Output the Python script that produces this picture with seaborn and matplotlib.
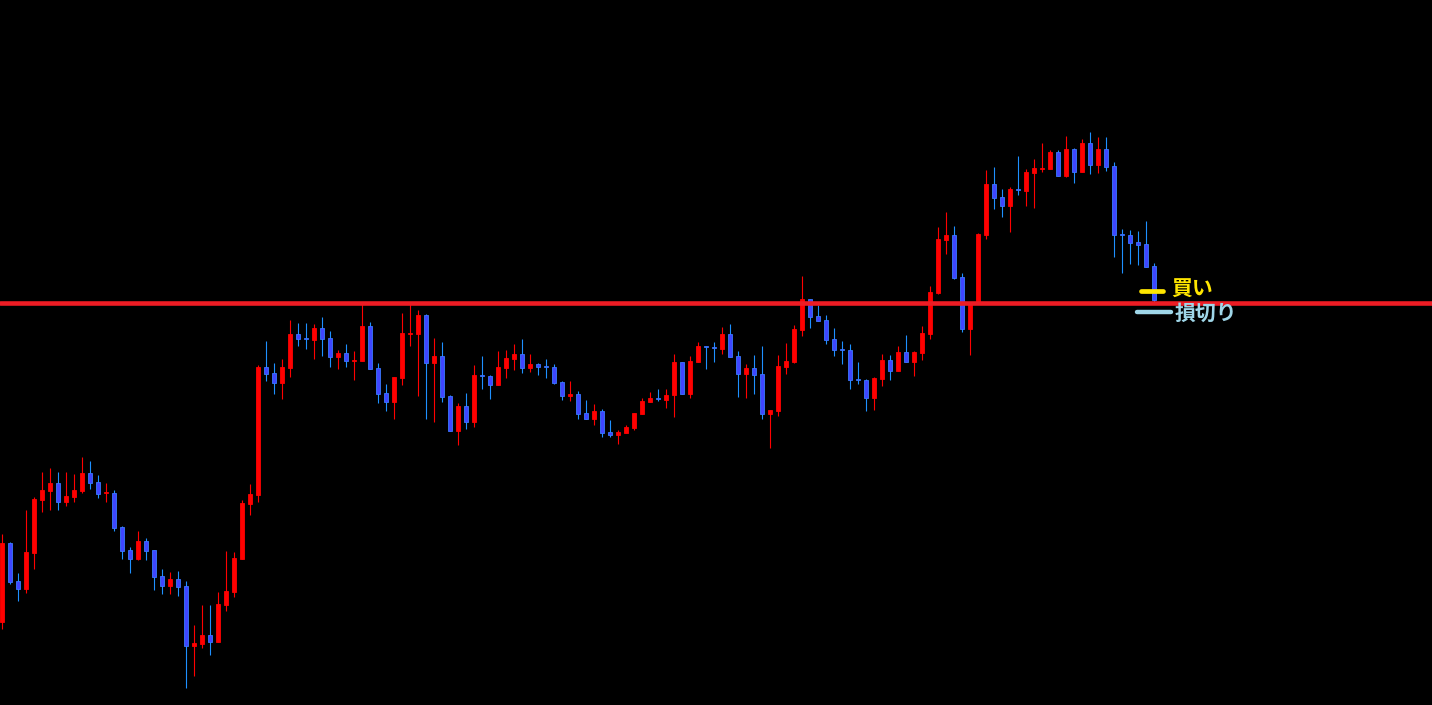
import numpy as np
import pandas as pd
import matplotlib
matplotlib.use("Agg")
import matplotlib.pyplot as plt
import seaborn as sns

# ---- data (price units) ----
opens = [83.3, 161.7, 124, 116, 152, 205, 214, 222, 203, 208, 214, 232, 223, 211.8, 212, 178, 155, 146, 164, 155,
         129, 119, 126, 119, 59.3, 61.3, 70, 63.3, 100, 113, 146, 201, 210, 338, 332, 322, 337, 371, 366.5, 365,
         377, 367, 348, 352, 344.5, 344, 379, 337, 312, 303.3, 327.3, 371.5, 371.3, 390, 342.3, 349, 309, 274.3, 299, 283.3,
         329.5, 329, 320.3, 337.3, 346.3, 351, 337.3, 341, 338.5, 338, 323, 309.3, 311, 292, 286.3, 294, 273, 270.3, 272.3, 277.3,
         291.3, 303.3, 306.5, 305.3, 310, 343, 311.3, 343.3, 358.5, 357.5, 356.3, 371, 349, 331.3, 337, 331, 291.3, 294.3, 338.3, 343.3,
         375.3, 406, 389, 385, 366, 355.5, 355, 325.5, 325, 307.3, 326.3, 345, 334.3, 353, 343.3, 352.3, 371.3, 412, 465.3, 470,
         428, 376.3, 402, 470, 521, 508, 499.3, 515.5, 514.3, 532.3, 536.5, 536.3, 553, 529.3, 556, 533.3, 562, 540.3, 556, 539,
         470.5, 470, 463, 461, 439]
highs = [171, 163, 132, 195, 208, 233, 237, 233, 233, 231, 248, 244, 230, 222, 215, 179, 158, 174, 167, 155,
         136, 133, 134, 124, 80, 100, 100, 113, 154, 153, 205, 221, 340, 364, 342, 346, 385, 382, 382, 381,
         388, 374, 355, 361, 354, 403, 383, 342, 321, 328, 392, 402, 395, 391, 367, 363, 310, 302, 312, 340,
         349, 330, 354, 355, 361, 366, 351, 342, 346, 341, 324, 324, 314, 305, 301, 296, 285, 275, 280, 292,
         307, 313, 316, 316, 351, 343, 349, 363, 359, 363, 378, 381, 354, 341, 350, 359, 295, 350, 362, 380,
         429, 406, 400, 390, 377, 364, 361, 343.3, 326, 328, 351, 350, 359, 370, 354, 379, 419, 478, 493, 479,
         432, 403, 472, 535, 538, 516, 518, 549, 536, 546, 562, 555, 555, 569, 557, 566, 573, 568, 568, 543,
         476, 475, 474, 484, 442]
lows = [76, 121.3, 104.3, 112.3, 136.3, 193.3, 195, 195, 199, 203, 212, 216, 207, 203, 174, 146, 132, 145, 145, 115,
        111, 111, 109, 17.3, 29.3, 57.3, 50, 63.3, 94, 108, 146, 190, 203, 324, 311, 306, 328, 359, 356, 346,
        349, 338, 336, 338, 325, 344, 336, 302.3, 294.3, 286.3, 320.3, 359.3, 309.3, 286.3, 283.3, 303.3, 274.3, 260.3, 276.3, 278.3,
        316.3, 306.3, 320.3, 327.3, 335.3, 332.3, 333.3, 330.3, 327.3, 321.3, 305.3, 304.3, 286.3, 286.3, 280.3, 268.3, 268.3, 261.3, 272.3, 275.3,
        291.3, 303.3, 304.3, 297.3, 288.3, 311.3, 307.3, 343.3, 336.3, 343.3, 351.3, 348.3, 308.3, 307.3, 311.3, 286.3, 257.3, 289.3, 331.3, 342.3,
        369.3, 377.3, 384.3, 361.3, 349.3, 341.3, 316.3, 321.3, 294.3, 295.3, 319.3, 325.3, 334.3, 343.3, 329.3, 345, 366.3, 411.3, 451.3, 426.3,
        373.3, 350, 402, 466.3, 496.3, 488.3, 473.3, 510.3, 499.3, 497.3, 533.3, 536.3, 529.3, 528.3, 522.3, 533.3, 531.3, 532.3, 534.3, 448.3,
        432.3, 441.3, 440.3, 438.3, 403]
closes = [162, 123.3, 116.3, 153, 206, 215, 222, 203.3, 209, 215, 232, 222, 211, 212.2, 177, 154, 146, 164, 154, 128.3,
          119, 126, 118, 59.3, 61.7, 70, 63.3, 101, 114, 147, 202, 211, 338, 331.3, 322.3, 338, 371, 366.3, 366, 377,
          366.3, 348.3, 352.3, 344.3, 345, 379, 336.3, 311.3, 303.3, 328, 372, 371.9, 390, 342.3, 349, 308.3, 274.3, 299, 283.3, 330,
          329.1, 320.3, 338, 347, 351, 337.3, 341, 338.3, 338.1, 322.3, 309.3, 311, 291.3, 286.3, 294, 272.3, 270.3, 273, 278, 292,
          304, 307, 306.1, 310, 343, 311.3, 344, 359, 358.1, 357.1, 371, 348.3, 331.3, 337, 330.3, 291.3, 295, 339, 344, 376,
          406, 388.3, 384.3, 365.3, 355.3, 355.1, 325.3, 325.1, 307.3, 327, 345, 334.3, 353, 343.3, 353, 372, 413, 466, 470, 427.3,
          376.3, 402, 471, 521, 507.3, 499.3, 516, 515.1, 533, 537, 536.9, 553, 529.3, 556, 533.3, 562, 540.3, 556, 538.3, 470.3,
          470.1, 462.3, 460.3, 438.3, 405]

level_price = 401.7      # red horizontal level
buy_price = 414.5        # 買い marker
stop_price = 393.0       # 損切り marker
labels = ["買い", "損切り"]

df = pd.DataFrame({"open": opens, "high": highs, "low": lows, "close": closes})
df["idx"] = np.arange(len(df))

# ---- style ----
sns.set_theme(style="dark", rc={"axes.facecolor": "black", "figure.facecolor": "black"})
plt.rcParams["font.family"] = ["Noto Sans CJK JP", "DejaVu Sans"]

W, H, DPI = 1432, 705, 100
fig = plt.figure(figsize=(W / DPI, H / DPI), dpi=DPI)
ax = fig.add_axes([0, 0, 1, 1])
ax.set_facecolor("black")
ax.set_xlim(-1.5 / 8, (W - 1.5) / 8)
ax.set_ylim(0, H)
ax.axis("off")

RED = "#ff0000"
BLUE_FILL = "#3f46ff"
BLUE_EDGE = "#3a78ff"
BLUE_WICK = "#1e90ff"

up = df["close"] >= df["open"]
wick_colors = np.where(up, RED, BLUE_WICK)
ax.vlines(df["idx"], df["low"], df["high"], colors=wick_colors, linewidth=0.8, zorder=2)

bottoms = np.minimum(df["open"], df["close"])
heights = np.maximum(np.abs(df["close"] - df["open"]), 1.0)
face = np.where(up, RED, BLUE_FILL)
edge = np.where(up, RED, BLUE_EDGE)
ax.bar(df["idx"], heights, bottom=bottoms, width=0.5, color=face, edgecolor=edge,
       linewidth=0.6, zorder=3)

# horizontal level line
ax.axhline(level_price, color="#ed1c24", linewidth=3.3, zorder=5)

# legend-like markers
ax.plot([142.4, 145.2], [buy_price, buy_price], color="#ffe600", linewidth=3.4,
        solid_capstyle="round", zorder=6)
ax.plot([141.9, 146.2], [stop_price, stop_price], color="#9fd6e8", linewidth=3.2,
        solid_capstyle="round", zorder=6)
ax.text(146.2, buy_price + 1.0, labels[0], color="#ffe600", fontsize=15, fontweight="bold",
        va="center", ha="left", zorder=7)
ax.text(146.6, stop_price - 1.0, labels[1], color="#9fd6e8", fontsize=15, fontweight="bold",
        va="center", ha="left", zorder=7)

fig.savefig("out.png", dpi=DPI, facecolor="black")
